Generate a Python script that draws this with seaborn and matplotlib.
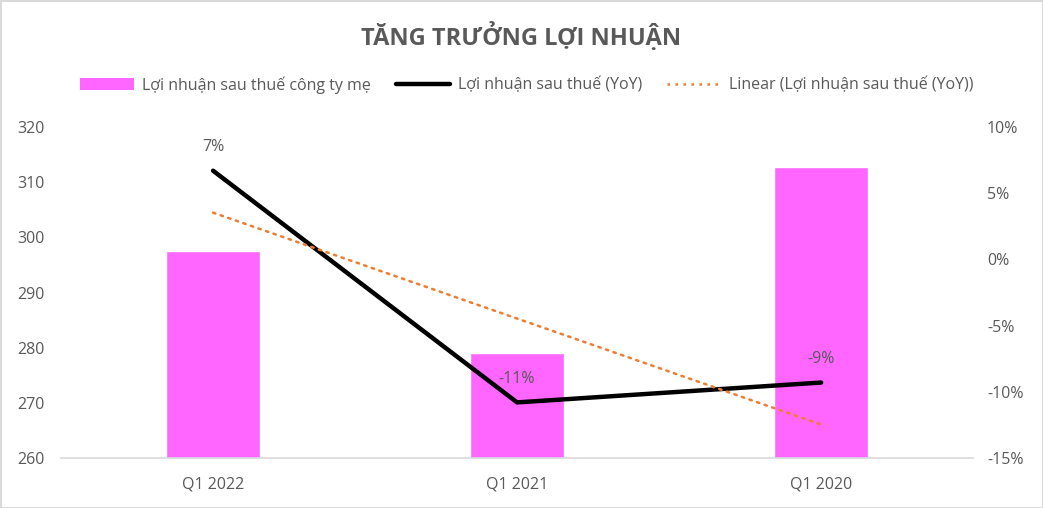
import matplotlib
matplotlib.use('Agg')
import matplotlib.pyplot as plt
import seaborn as sns
import numpy as np
import pandas as pd
from matplotlib.patches import Patch
from matplotlib.lines import Line2D

sns.set_theme(style='white')
plt.rcParams['font.family'] = ['Open Sans', 'DejaVu Sans']

# Data
quarters = ['Q1 2022', 'Q1 2021', 'Q1 2020']
profit = [297.5, 279.0, 312.8]          # Lợi nhuận sau thuế công ty mẹ
yoy = [0.067, -0.108, -0.093]           # Lợi nhuận sau thuế (YoY)
yoy_labels = ['7%', '-11%', '-9%']

TEXT = '#595959'
BAR = '#FF66FF'
TREND = '#ED7D31'

df = pd.DataFrame({'quarter': quarters, 'profit': profit, 'yoy': yoy,
                   'pos': np.arange(len(quarters))})

fig = plt.figure(figsize=(10.43, 5.08), dpi=100)
fig.patch.set_edgecolor('#D9D9D9')
fig.patch.set_linewidth(2)
ax = fig.add_axes([0.0585, 0.0984, 0.8745, 0.6516])

sns.barplot(data=df, x='quarter', y='profit', color=BAR, width=0.31,
            saturation=1, ax=ax)
ax.set_ylim(260, 320)
ax.set_yticks(np.arange(260, 321, 10))
ax.set_xlim(-0.5, 2.5)
ax.set_xlabel('')
ax.set_ylabel('')
ax.tick_params(axis='both', length=0, labelsize=11.5, colors=TEXT)
ax.tick_params(axis='x', pad=13)
ax.tick_params(axis='y', pad=12)
for s in ['top', 'left', 'right']:
    ax.spines[s].set_visible(False)
ax.spines['bottom'].set_color('#D9D9D9')
ax.spines['bottom'].set_linewidth(1.2)

ax2 = ax.twinx()
sns.lineplot(data=df, x='pos', y='yoy', color='black', linewidth=3.2,
             solid_capstyle='round', ax=ax2)
# Excel linear trendline of the YoY series
coef = np.polyfit(df['pos'], df['yoy'], 1)
trend = np.polyval(coef, df['pos'])
ax2.plot(df['pos'], trend, color=TREND, linestyle=(0, (1, 2.2)),
         linewidth=1.8, dash_capstyle='round')
for x, y, lab in zip(df['pos'], yoy, yoy_labels):
    ax2.annotate(lab, (x, y), xytext=(0, 11), textcoords='offset points',
                 ha='center', va='bottom', fontsize=11.5, color=TEXT)
ax2.set_ylim(-0.15, 0.10)
ax2.set_yticks(np.arange(-0.15, 0.101, 0.05))
ax2.set_yticklabels([f'{int(round(v * 100))}%' for v in np.arange(-0.15, 0.101, 0.05)])
ax2.set_xlim(-0.5, 2.5)
ax2.set_ylabel('')
ax2.tick_params(axis='y', length=0, labelsize=11.5, colors=TEXT, pad=10)
for s in ['top', 'left', 'right', 'bottom']:
    ax2.spines[s].set_visible(False)

fig.text(0.5, 0.928, 'TĂNG TRƯỞNG LỢI NHUẬN', ha='center', va='center',
         fontsize=17, fontweight='bold', color=TEXT)

handles = [Patch(facecolor=BAR, edgecolor='none'),
           Line2D([0], [0], color='black', linewidth=3.2),
           Line2D([0], [0], color=TREND, linestyle=(0, (1, 2.2)), linewidth=1.8)]
labels = ['Lợi nhuận sau thuế công ty mẹ', 'Lợi nhuận sau thuế (YoY)',
          'Linear (Lợi nhuận sau thuế (YoY))']
fig.legend(handles, labels, loc='center', bbox_to_anchor=(0.505, 0.833),
           ncol=3, frameon=False, fontsize=11.5, labelcolor=TEXT,
           handlelength=3.4, columnspacing=1.6, handletextpad=0.45)

fig.savefig('out.png', dpi=100)
